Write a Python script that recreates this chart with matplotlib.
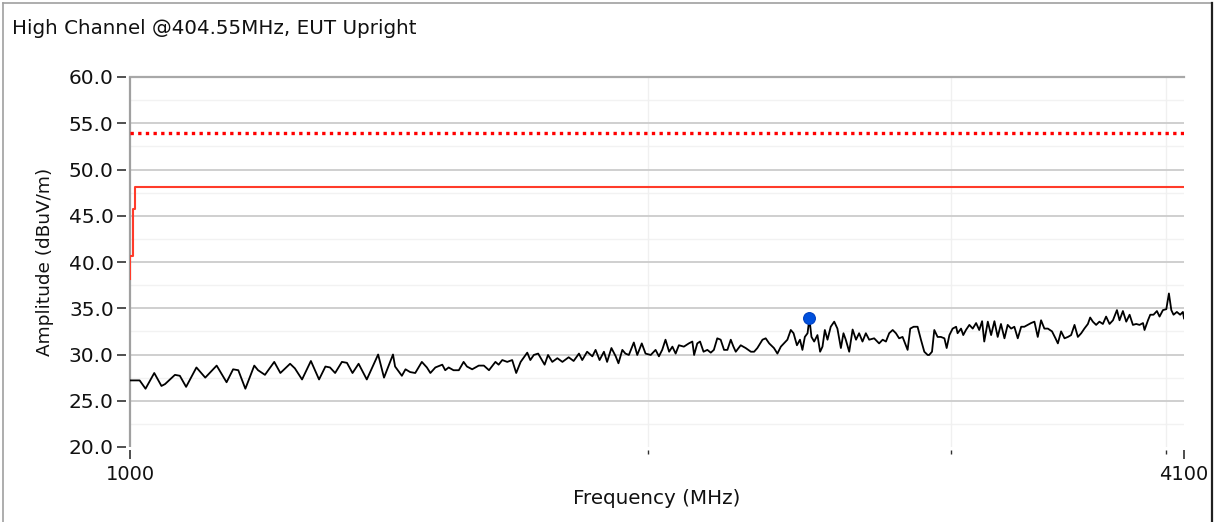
import matplotlib
matplotlib.use("Agg")
import matplotlib.pyplot as plt
from matplotlib.lines import Line2D
from matplotlib.ticker import FixedLocator, NullFormatter, FixedFormatter

plt.rcParams['font.family'] = ['DejaVu Sans']

# ---------------- data ----------------
title = "High Channel @404.55MHz, EUT Upright"
x_label = "Frequency (MHz)"
y_label = "Amplitude (dBuV/m)"

x_major_ticks = [1000, 4100]
x_major_labels = ["1000", "4100"]
x_minor_ticks = [2000, 3000, 4000]
y_major_ticks = [20, 25, 30, 35, 40, 45, 50, 55, 60]
y_minor_ticks = [22.5, 27.5, 32.5, 37.5, 42.5, 47.5, 52.5, 57.5]

# average limit (dotted)
avg_limit_freq = [1000, 4100]
avg_limit_val = [54.0, 54.0]

# stepped limit line (solid red)
limit_freq = [1000, 1003.5, 1006.5, 4100]
limit_val = [38.2, 40.6, 45.7, 48.15]

# peak marker
marker_freq = [2483]
marker_val = [34.0]

# measured trace
trace_freq = [
    1000, 1013, 1021, 1033, 1043, 1048, 1062, 1069, 1078, 1093, 1106, 1123, 1138, 1148, 1156,
    1167, 1181, 1187, 1198, 1213, 1223, 1239, 1247, 1259, 1274, 1288, 1299, 1307, 1316, 1328,
    1337, 1347, 1358, 1373, 1394, 1405, 1422,
    1426, 1439, 1446, 1455, 1465, 1478, 1488, 1495, 1505, 1519, 1525, 1532, 1542, 1553, 1563,
    1570, 1581, 1595, 1606, 1617, 1631, 1638, 1646, 1657, 1668, 1677, 1687, 1702, 1709, 1717,
    1727, 1742, 1750, 1760, 1772, 1784, 1799, 1811, 1824, 1832, 1844, 1857, 1865, 1875, 1886,
    1894, 1905, 1916, 1923, 1933, 1941, 1950, 1963, 1972, 1984, 1994, 2008, 2021, 2030, 2039,
    2048, 2058, 2067, 2076, 2085, 2099, 2113, 2123, 2128, 2137, 2145, 2155, 2166, 2176, 2185,
    2195, 2205, 2215, 2225, 2235, 2243, 2250, 2265, 2280, 2296, 2306, 2316, 2332, 2342, 2353,
    2368, 2379, 2390, 2400, 2411, 2422, 2431, 2442, 2452, 2460, 2468, 2477, 2483, 2490, 2499,
    2510, 2519, 2527, 2535, 2544, 2555, 2567, 2578, 2590, 2599, 2607, 2619, 2631, 2643, 2654,
    2666, 2678, 2690, 2708, 2726, 2739, 2751, 2763, 2776, 2788, 2800, 2813, 2832, 2842, 2855,
    2870, 2883, 2896, 2909,
    2915, 2926, 2935, 2948, 2961, 2975, 2984, 2995, 3008, 3022, 3028, 3042, 3051, 3062, 3076,
    3090, 3104, 3117, 3129, 3138, 3153, 3167, 3181, 3195, 3209, 3224, 3238, 3253, 3267, 3282,
    3297, 3311, 3326, 3341, 3356, 3371, 3386, 3401, 3417, 3436, 3452, 3463, 3478, 3494, 3510,
    3525, 3541, 3557, 3573, 3588, 3605, 3616, 3629, 3645, 3661, 3678, 3694, 3711, 3728, 3748,
    3761, 3778, 3795, 3812, 3829, 3846, 3863, 3881, 3889, 3907, 3919, 3936, 3954, 3968, 3986,
    4004, 4018, 4031, 4043, 4061, 4079, 4094, 4100,
]
trace_val = [
    27.2, 27.2, 26.3, 28.0, 26.6, 26.8, 27.8, 27.7, 26.5, 28.6, 27.5, 28.8, 27.0, 28.4, 28.3,
    26.3, 28.8, 28.3, 27.8, 29.2, 28.0, 29.0, 28.5, 27.3, 29.3, 27.3, 28.7, 28.6, 28.0, 29.2,
    29.1, 28.0, 29.0, 27.3, 30.0, 27.5, 30.0,
    28.7, 27.7, 28.4, 28.1, 28.0, 29.2, 28.6, 28.0, 28.6, 28.9, 28.3, 28.6, 28.3, 28.3, 29.2,
    28.7, 28.4, 28.8, 28.8, 28.3, 29.2, 28.9, 29.4, 29.2, 29.4, 28.0, 29.2, 30.2, 29.4, 29.95,
    30.1, 28.9, 29.95, 29.2, 29.6, 29.2, 29.7, 29.3, 30.1, 29.4, 30.3, 29.8, 30.5, 29.4, 30.3,
    29.2, 30.7, 29.8, 29.05, 30.5, 30.1, 29.95, 31.3, 29.95, 31.2, 30.1, 29.95, 30.5, 29.8, 30.5,
    31.6, 30.3, 30.85, 30.1, 31.0, 30.85, 31.2, 31.4, 29.95, 31.2, 31.4, 30.3, 30.5, 30.2, 30.5,
    31.75, 31.6, 30.5, 30.5, 31.6, 30.85, 30.3, 31.0, 30.7, 30.3, 30.3, 30.7, 31.6, 31.75, 31.2,
    30.7, 30.1, 30.85, 31.2, 31.6, 32.65, 32.3, 31.0, 31.6, 30.5, 31.9, 32.3, 33.9, 31.9, 31.4,
    32.1, 30.3, 30.85, 32.65, 31.6, 33.0, 33.55, 32.8, 30.7, 32.3, 31.6, 30.3, 32.7, 31.6, 32.3,
    31.4, 32.3, 31.6, 31.75, 31.2, 31.6, 31.4, 32.3, 32.65, 32.3, 31.75, 31.9, 30.5, 32.8, 33.0,
    33.0, 31.6, 30.3, 29.95,
    29.95, 30.3, 32.65, 31.9, 31.9, 31.75, 30.7, 32.1, 32.8, 33.0, 32.3, 32.8, 32.1, 32.65, 33.2,
    32.8, 33.4, 32.65, 33.6, 31.4, 33.55, 32.1, 33.6, 31.9, 33.3, 31.75, 33.2, 32.8, 33.0, 31.75,
    33.0, 33.0, 33.2, 33.4, 33.55, 31.9, 33.7, 32.8, 32.8, 32.5, 31.75, 31.2, 32.5, 31.75, 31.9,
    32.1, 33.2, 31.9, 32.3, 32.8, 33.3, 34.0, 33.55, 33.2, 33.55, 33.3, 34.1, 33.3, 33.7, 34.8,
    33.7, 34.7, 33.55, 34.3, 33.2, 33.3, 33.2, 33.4, 32.65, 33.7, 34.3, 34.3, 34.7, 34.1, 34.8,
    34.9, 36.6, 34.8, 34.3, 34.6, 34.3, 34.6, 33.9,
]

# ---------------- figure ----------------
W, H = 1225, 522
fig = plt.figure(figsize=(W / 100, H / 100), dpi=100)
fig.patch.set_facecolor('white')

ax_l, ax_r, ax_t, ax_b = 130, 1184, 77, 447
ax = fig.add_axes([ax_l / W, 1 - ax_b / H, (ax_r - ax_l) / W, (ax_b - ax_t) / H])
ax.set_xscale('log')
ax.set_xlim(1000, 4100)
ax.set_ylim(20, 60)

# grid lines
for v in y_minor_ticks:
    ax.axhline(v, color='#f2f2f2', lw=1.0, zorder=0.5)
for v in y_major_ticks[1:-1]:
    ax.axhline(v, color='#cfcfcf', lw=1.4, zorder=0.6)
for v in x_minor_ticks:
    ax.axvline(v, color='#f0f0f0', lw=1.0, zorder=0.5)

# spines
for s in ['right', 'bottom']:
    ax.spines[s].set_visible(False)
ax.spines['top'].set_color('#a8a8a8')
ax.spines['top'].set_linewidth(1.6)
ax.spines['left'].set_position(('outward', 3))
ax.spines['left'].set_edgecolor('none')
ax.spines['bottom'].set_position(('outward', 2.5))
ax.plot([0, 0], [0, 1], transform=ax.transAxes, color='#a0a0a0', lw=1.6,
        clip_on=False, zorder=3, solid_capstyle='butt')

# ticks
ax.yaxis.set_major_locator(FixedLocator(y_major_ticks))
ax.yaxis.set_major_formatter(FixedFormatter([f"{v:.1f}" for v in y_major_ticks]))
ax.yaxis.set_minor_locator(FixedLocator([]))
ax.xaxis.set_major_locator(FixedLocator(x_major_ticks))
ax.xaxis.set_major_formatter(FixedFormatter(x_major_labels))
ax.xaxis.set_minor_locator(FixedLocator(x_minor_ticks))
ax.xaxis.set_minor_formatter(NullFormatter())
ax.tick_params(axis='y', which='major', direction='out', length=6.2, width=1.1,
               color='#202020', labelsize=14.5, pad=2.5, labelcolor='#111111')
ax.tick_params(axis='x', which='major', direction='out', length=6.5, width=1.2,
               color='#303030', labelsize=14, pad=4, labelcolor='#111111')
ax.tick_params(axis='x', which='minor', direction='out', length=3, width=1.0,
               color='#303030')

# data
ax.plot(avg_limit_freq, avg_limit_val, color='#ff0000', lw=2.4,
        linestyle=(0, (1, 1.3)), zorder=4, dash_capstyle='butt')
ax.plot(limit_freq, limit_val, color='#ff3b2a', lw=1.5, drawstyle='steps-pre', zorder=4)
ax.plot(trace_freq, trace_val, color='#000000', lw=1.3, zorder=5)
ax.plot(marker_freq, marker_val, 'o', color='#0050dd', markersize=8.5,
        markeredgecolor='#0040c0', markeredgewidth=0.8, zorder=6)

# labels
fig.text(12 / W, 1 - 28 / H, title, ha='left', va='center', fontsize=14.3, color='#111111')
fig.text(45 / W, 1 - 262 / H, y_label, ha='center', va='center', rotation=90,
         fontsize=13.3, color='#111111')
fig.text(657 / W, 1 - 498 / H, x_label, ha='center', va='center',
         fontsize=14.3, color='#111111')

# figure frame
fig.add_artist(Line2D([3 / W, 3 / W], [0, 1 - 3 / H], color='#a0a0a0', lw=1.2))
fig.add_artist(Line2D([3 / W, 1212 / W], [1 - 3 / H, 1 - 3 / H], color='#a0a0a0', lw=1.2))
fig.add_artist(Line2D([1211.5 / W, 1211.5 / W], [0, 1 - 3 / H], color='#202020', lw=1.6))

fig.savefig('out.png', dpi=100, facecolor='white')
